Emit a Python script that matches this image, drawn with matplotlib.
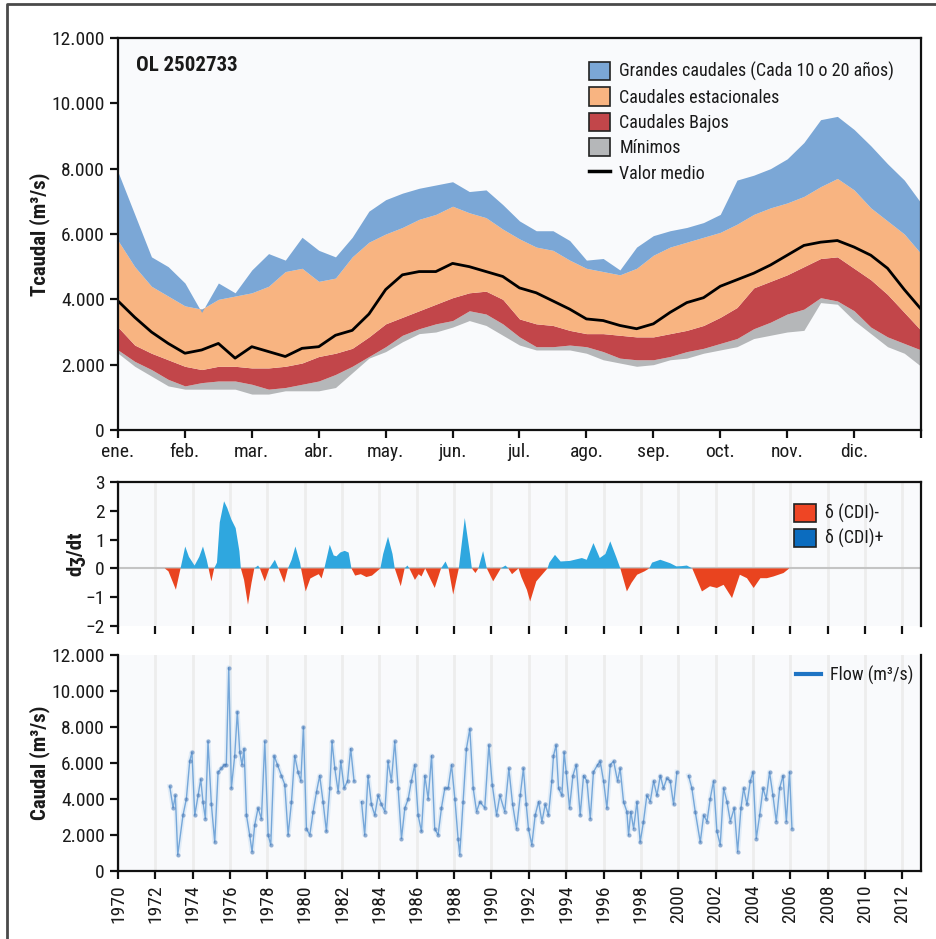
import numpy as np
import matplotlib
matplotlib.use('Agg')
import matplotlib.pyplot as plt
from matplotlib import font_manager
from matplotlib.patches import Patch
from matplotlib.lines import Line2D
from matplotlib.ticker import FuncFormatter

# pick a narrow font if one is there (the original uses a condensed sans)
avail = {f.name for f in font_manager.fontManager.ttflist}
narrow = [f for f in ['Liberation Sans Narrow', 'Roboto Condensed', 'DejaVu Sans Condensed',
                      'Open Sans Condensed', 'Noto Sans Display'] if f in avail]
if narrow:
    base = narrow[0]
    k = 1.0
else:
    base = 'Roboto' if 'Roboto' in avail else 'Liberation Sans'
    k = 0.84
plt.rcParams['font.family'] = [base, 'DejaVu Sans']

# --- panel 1: seasonal bands (m3/s), every quarter month from ene. to end of dic.
mes = np.arange(0, 12.01, 0.25)
meses = ['ene.', 'feb.', 'mar.', 'abr.', 'may.', 'jun.',
         'jul.', 'ago.', 'sep.', 'oct.', 'nov.', 'dic.']

grandes_top = [7900, 6600, 5300, 5000, 4500, 3600, 4500, 4200, 4900, 5400, 5200, 5900,
               5500, 5300, 5900, 6700, 7050, 7250, 7400, 7500, 7600, 7300, 7350, 6900,
               6400, 6100, 6100, 5800, 5200, 5250, 4900, 5600, 5950, 6100, 6200, 6350,
               6600, 7650, 7800, 8000, 8300, 8800, 9500, 9600, 9200, 8700, 8150, 7650, 6950]
estac_top = [5800, 5000, 4400, 4100, 3800, 3700, 4000, 4100, 4200, 4400, 4850, 4950,
             4550, 4650, 5300, 5750, 6000, 6200, 6450, 6600, 6850, 6650, 6500, 6150,
             5850, 5600, 5500, 5200, 4950, 4850, 4750, 4950, 5350, 5600, 5750, 5900,
             6050, 6300, 6600, 6800, 6950, 7150, 7450, 7700, 7350, 6800, 6400, 6000, 5400]
bajos_top = [3150, 2600, 2350, 2150, 1950, 1850, 1950, 1950, 1900, 1900, 1950, 2050,
             2250, 2350, 2500, 2850, 3250, 3450, 3650, 3850, 4050, 4200, 4250, 4000,
             3400, 3250, 3200, 3050, 2950, 2950, 2900, 2850, 2850, 2950, 3050, 3200,
             3450, 3750, 4350, 4550, 4750, 5000, 5250, 5300, 4950, 4600, 4150, 3600, 3050]
bajos_bot = [2450, 2100, 1850, 1550, 1350, 1450, 1500, 1500, 1400, 1250, 1300, 1400,
             1500, 1700, 1950, 2250, 2550, 2900, 3100, 3250, 3350, 3650, 3550, 3250,
             2850, 2550, 2550, 2600, 2550, 2400, 2200, 2150, 2150, 2250, 2400, 2500,
             2650, 2800, 3100, 3300, 3550, 3700, 4050, 3950, 3650, 3150, 2850, 2650, 2450]
minimos = [2350, 1950, 1650, 1350, 1250, 1250, 1250, 1250, 1100, 1100, 1200, 1200,
           1200, 1300, 1750, 2200, 2400, 2700, 2950, 3000, 3150, 3350, 3200, 2900,
           2600, 2450, 2450, 2450, 2350, 2150, 2050, 1950, 2000, 2150, 2200, 2350,
           2450, 2550, 2800, 2900, 3000, 3050, 3900, 3850, 3350, 2950, 2550, 2350, 1950]
medio = [3950, 3450, 3000, 2650, 2350, 2450, 2650, 2200, 2550, 2400, 2250, 2500,
         2550, 2900, 3050, 3550, 4300, 4750, 4850, 4850, 5100, 5000, 4850, 4700,
         4350, 4200, 3950, 3700, 3400, 3350, 3200, 3100, 3250, 3600, 3900, 4050,
         4400, 4600, 4800, 5050, 5350, 5650, 5750, 5800, 5600, 5350, 4950, 4300, 3700]

# --- panel 2: dZ/dt
dz_year = [1972.5, 1972.7, 1973.1, 1973.35, 1973.45, 1973.6, 1973.8, 1974.1, 1974.35, 1974.55,
           1974.75, 1974.85, 1975.0, 1975.15, 1975.3, 1975.45, 1975.68, 1975.85, 1976.07, 1976.3,
           1976.5, 1976.58, 1976.75, 1976.96, 1977.15, 1977.3, 1977.5, 1977.6, 1977.86, 1978.1,
           1978.4, 1978.6, 1978.9, 1979.1, 1979.3, 1979.5, 1979.75, 1979.8, 1980.05, 1980.3,
           1980.5, 1980.75, 1980.9, 1981.05, 1981.34, 1981.55, 1981.7, 1981.9, 1982.14, 1982.35,
           1982.5, 1982.7, 1983.0, 1983.3, 1983.6, 1984.05, 1984.2, 1984.46, 1984.7, 1984.82,
           1985.14, 1985.35, 1985.5, 1985.6, 1985.9, 1986.1, 1986.25, 1986.45, 1986.6, 1986.96,
           1987.3, 1987.54, 1987.7, 1987.95, 1988.25, 1988.57, 1988.85, 1988.95, 1989.14, 1989.3,
           1989.55, 1989.75, 1990.09, 1990.5, 1990.75, 1990.9, 1991.1, 1991.45, 1991.6, 1991.9,
           1992.07, 1992.4, 1992.8, 1993.0, 1993.1, 1993.4, 1993.7, 1994.2, 1994.84, 1995.1,
           1995.46, 1995.8, 1996.1, 1996.36, 1996.7, 1996.9, 1997.25, 1997.5, 1997.8, 1998.2,
           1998.45, 1998.6, 1999.04, 1999.57, 1999.9, 2000.2, 2000.46, 2000.75, 2001.27, 2001.7,
           2002.07, 2002.43, 2002.88, 2003.3, 2003.68, 2004.04, 2004.4, 2004.75, 2005.1, 2005.64,
           2005.95]
dz_val = [0, -0.1, -0.74, 0, 0.3, 0.76, 0.4, 0.1, 0.4, 0.76,
          0.3, 0, -0.45, 0, 0.2, 1.6, 2.33, 2.1, 1.7, 1.4,
          0.6, 0, -0.4, -1.26, -0.5, 0, 0.1, 0, -0.45, 0,
          0.3, 0, -0.5, 0, 0.3, 0.76, 0.2, 0, -0.8, -0.35,
          -0.28, -0.2, -0.35, 0, 0.82, 0.45, 0.42, 0.55, 0.61, 0.55,
          0, -0.25, -0.2, -0.3, -0.25, 0, 0.5, 1.1, 0.5, 0,
          -0.62, 0, 0.1, 0, -0.4, -0.2, -0.28, 0, -0.2, -0.68,
          0, 0.24, 0, -0.91, 0, 1.75, 0.5, 0, -0.16, 0,
          0.6, 0, -0.45, 0, 0.1, 0, -0.2, 0, -0.3, -0.75,
          -1.15, -0.45, -0.15, 0, 0.2, 0.47, 0.24, 0.26, 0.36, 0.3,
          0.88, 0.36, 0.5, 0.94, 0.36, 0, -0.8, -0.5, -0.22, -0.1,
          0, 0.2, 0.3, 0.18, 0.07, 0.08, 0.1, 0, -0.8, -0.62,
          -0.68, -0.57, -1.03, -0.22, -0.34, -0.68, -0.34, -0.34, -0.28, -0.16,
          0]

# --- panel 3: observed flow (m3/s), nan = gap
flow_year = [1972.77, 1972.95, 1973.07, 1973.2, 1973.48, 1973.66, 1973.84, 1973.96, 1974.11, 1974.29,
             1974.43, 1974.55, 1974.68, 1974.82, 1975.0, 1975.18, 1975.36, 1975.54, 1975.68, 1975.8,
             1975.93, 1976.07, 1976.25, 1976.39, 1976.52, 1976.64, 1976.75, 1976.88, 1977.05, 1977.18,
             1977.32, 1977.5, 1977.68, 1977.86, 1978.04, 1978.18, 1978.36, 1978.54, 1978.75, 1978.93,
             1979.11, 1979.29, 1979.46, 1979.64, 1979.79, 1979.93, 1980.09, 1980.27, 1980.45, 1980.63,
             1980.8, 1980.98, 1981.16, 1981.34, 1981.46, 1981.61, 1981.79, 1981.93, 1982.11, 1982.29,
             1982.46, 1982.64, 1982.8,
             1983.04, 1983.21, 1983.39, 1983.57, 1983.75, 1983.93, 1984.11, 1984.29, 1984.46, 1984.64,
             1984.82, 1985.0, 1985.18, 1985.36, 1985.54, 1985.71, 1985.89, 1986.07, 1986.25, 1986.43,
             1986.61, 1986.79, 1986.96, 1987.14, 1987.32, 1987.5, 1987.68, 1987.86, 1988.04, 1988.21,
             1988.3, 1988.48, 1988.66, 1988.84, 1989.02, 1989.2, 1989.38, 1989.64, 1989.86, 1990.04,
             1990.27, 1990.45, 1990.71, 1990.93, 1991.13, 1991.34, 1991.54, 1991.71, 1991.86, 1991.98,
             1992.16, 1992.34, 1992.52, 1992.7, 1992.88, 1993.05, 1993.23, 1993.32, 1993.46, 1993.59,
             1993.77, 1993.89, 1994.0, 1994.18, 1994.36, 1994.54, 1994.75, 1994.93, 1995.11, 1995.29,
             1995.46, 1995.68, 1995.82, 1996.0, 1996.18, 1996.36, 1996.54, 1996.75, 1996.89, 1997.07,
             1997.25, 1997.34, 1997.46, 1997.61, 1997.79, 1997.96, 1998.14, 1998.32, 1998.5, 1998.68,
             1998.86, 1999.04, 1999.21, 1999.39, 1999.57, 1999.75, 1999.93, 2000.2,
             2000.55, 2000.73, 2000.91, 2001.18, 2001.36, 2001.54, 2001.71, 2001.89, 2002.07, 2002.25,
             2002.43, 2002.61, 2002.79, 2003.0, 2003.18, 2003.36, 2003.5, 2003.68, 2003.86, 2004.0,
             2004.18, 2004.36, 2004.54, 2004.71, 2004.89, 2005.07, 2005.25, 2005.43, 2005.61, 2005.79,
             2005.96, 2006.09]
flow_val = [4700, 3500, 4200, 900, 3100, 4000, 6100, 6600, 3100, 4200,
            5100, 3850, 2900, 7200, 3700, 1600, 5500, 5700, 5900, 5900,
            11300, 4600, 6400, 8850, 6600, 5900, 6800, 3100, 2000, 1070,
            2550, 3500, 2900, 7200, 2000, 1450, 6400, 5900, 5300, 4800,
            2000, 3850, 6400, 5500, 5000, 8000, 2350, 2000, 3300, 4400,
            5300, 3850, 2200, 4600, 7200, 5700, 4400, 6100, 4600, 5000,
            6800, 5000, np.nan,
            3850, 2000, 5300, 3700, 3100, 4200, 3700, 3300, 6100, 5000,
            7200, 4600, 1800, 3500, 4000, 5000, 5900, 3100, 2200, 5300,
            4000, 6400, 2350, 2000, 3500, 4600, 4600, 5900, 4000, 1800,
            900, 3850, 6800, 7900, 4600, 3300, 3850, 3500, 7000, 4800,
            3100, 4200, 3300, 5700, 3700, 2350, 4200, 5700, 3700, 2350,
            1450, 3100, 3850, 2750, 3700, 3100, 5000, 6400, 7000, 4600,
            4200, 6600, 5500, 3500, 5300, 5900, 3100, 5300, 5000, 2900,
            5500, 5900, 6100, 5000, 3500, 5900, 6100, 5000, 5700, 3850,
            3300, 2000, 3300, 2350, 3850, 1600, 2750, 4200, 3850, 5000,
            4200, 5300, 4600, 5150, 5000, 3700, 5500, np.nan,
            5300, 4600, 3300, 1600, 3100, 2750, 4000, 5000, 2200, 1450,
            4600, 3850, 2750, 3500, 1070, 3500, 4600, 3700, 5000, 5500,
            1800, 3100, 4600, 4000, 5500, 4200, 2750, 4600, 5300, 2750,
            5500, 2350]

years_ticks = list(range(1970, 2013, 2))

c_grandes = '#7ba7d6'
c_estac = '#f8b481'
c_bajos = '#c2464a'
c_min = '#b5b7b9'
c_pos = '#2fa7df'
c_neg = '#e9441f'
bg = '#f9fafc'
ink = '#1a1a1a'

fs_tick = 14 * k
fs_lab = 15 * k
fs_leg = 13 * k


def miles(v, p):
    return f'{int(round(v)):,}'.replace(',', '.')


fig = plt.figure(figsize=(9.37, 9.39), dpi=100)

# outer frame (left and top edge visible)
fig.add_artist(Line2D([7 / 937, 7 / 937, 1.0], [0.0, 1 - 4 / 939, 1 - 4 / 939],
                      transform=fig.transFigure, color='#4a4a4a', lw=2))

ax1 = fig.add_axes([118 / 937, 1 - 430 / 939, 803 / 937, 392 / 939])
ax2 = fig.add_axes([118 / 937, 1 - 626 / 939, 803 / 937, 144 / 939])
ax3 = fig.add_axes([118 / 937, 1 - 871 / 939, 803 / 937, 216 / 939])

# ---- top panel
ax1.set_facecolor(bg)
ax1.fill_between(mes, minimos, bajos_bot, color=c_min, lw=0)
ax1.fill_between(mes, bajos_bot, bajos_top, color=c_bajos, lw=0)
ax1.fill_between(mes, bajos_top, estac_top, color=c_estac, lw=0)
ax1.fill_between(mes, estac_top, grandes_top, color=c_grandes, lw=0)
ax1.plot(mes, medio, color='black', lw=2)
ax1.set_xlim(0, 12)
ax1.set_ylim(0, 12000)
ax1.set_xticks(range(13))
ax1.set_xticklabels(meses + [''])
ax1.set_yticks(range(0, 12001, 2000))
ax1.yaxis.set_major_formatter(FuncFormatter(miles))
ax1.set_ylabel('Tcaudal (m³/s)', fontsize=fs_lab, fontweight='bold', color=ink)
ax1.yaxis.set_label_coords(-0.085, 0.5)
ax1.text(0.022, 0.955, 'OL 2502733', transform=ax1.transAxes, fontsize=fs_lab,
         fontweight='bold', va='top', ha='left', color=ink)
h1 = [Patch(facecolor=c_grandes, edgecolor='#222222', lw=1.2),
      Patch(facecolor=c_estac, edgecolor='#222222', lw=1.2),
      Patch(facecolor=c_bajos, edgecolor='#222222', lw=1.2),
      Patch(facecolor=c_min, edgecolor='#222222', lw=1.2),
      Line2D([0], [0], color='black', lw=2.5)]
ax1.legend(h1, ['Grandes caudales (Cada 10 o 20 años)', 'Caudales estacionales',
                'Caudales Bajos', 'Mínimos', 'Valor medio'],
           loc='upper left', bbox_to_anchor=(0.577, 0.958), frameon=False,
           fontsize=fs_leg, handlelength=1.2, handleheight=1.2, labelspacing=0.33,
           handletextpad=0.5, borderaxespad=0, labelcolor=ink)

# ---- middle panel
ax2.set_facecolor(bg)
dz_year = np.array(dz_year)
dz_val = np.array(dz_val)
ax2.axhline(0, color='#c4c4c4', lw=1.5, zorder=1)
ax2.fill_between(dz_year, dz_val, 0, where=dz_val >= 0, interpolate=True, color=c_pos, lw=0, zorder=2)
ax2.fill_between(dz_year, dz_val, 0, where=dz_val <= 0, interpolate=True, color=c_neg, lw=0, zorder=2)
ax2.set_xlim(1970, 2013)
ax2.set_ylim(-2, 3)
ax2.set_xticks(years_ticks)
ax2.tick_params(axis='x', length=0, labelbottom=False)
ax2.grid(axis='x', color='#ededed', lw=2)
ax2.set_axisbelow(True)
ax2.spines['bottom'].set_visible(False)
ax2.set_yticks(range(-2, 4))
ax2.set_ylabel('dʒ/dt', fontsize=fs_lab, fontweight='bold', color=ink)
ax2.yaxis.set_label_coords(-0.041, 0.5)
h2 = [Patch(facecolor='#ee4524', edgecolor='#222222', lw=1.2),
      Patch(facecolor='#0b6cbf', edgecolor='#222222', lw=1.2)]
ax2.legend(h2, ['δ (CDI)-', 'δ (CDI)+'], loc='upper left', bbox_to_anchor=(0.833, 0.9),
           frameon=False, fontsize=fs_leg, handlelength=1.2, handleheight=1.2,
           labelspacing=0.3, handletextpad=0.5, borderaxespad=0, labelcolor=ink)

# ---- bottom panel
ax3.set_facecolor(bg)
ax3.plot(flow_year, flow_val, color='#d2e4f4', lw=3.5, alpha=0.6, solid_joinstyle='round')
ax3.plot(flow_year, flow_val, color='#6aa0d6', lw=1.0, alpha=0.9)
ax3.plot(flow_year, flow_val, 'o', color='#3d6fb0', ms=3, alpha=0.5, mec='none')
ax3.set_xlim(1970, 2013)
ax3.set_ylim(0, 12000)
ax3.set_xticks(years_ticks)
ax3.set_xticklabels([str(y) for y in years_ticks], rotation=90)
ax3.grid(axis='x', color='#ededed', lw=2)
ax3.set_axisbelow(True)
ax3.spines['top'].set_visible(False)
ax3.set_yticks(range(0, 12001, 2000))
ax3.yaxis.set_major_formatter(FuncFormatter(miles))
ax3.set_ylabel('Caudal (m³/s)', fontsize=fs_lab, fontweight='bold', color=ink)
ax3.yaxis.set_label_coords(-0.085, 0.5)
ax3.legend([Line2D([0], [0], color='#1f74c4', lw=3)], ['Flow (m³/s)'], loc='upper left',
           bbox_to_anchor=(0.835, 0.985), frameon=False, fontsize=fs_leg,
           handlelength=1.4, handletextpad=0.5, borderaxespad=0, labelcolor=ink)

for ax in (ax1, ax2, ax3):
    for s in ax.spines.values():
        s.set_linewidth(1.6)
        s.set_color('#111111')
    ax.tick_params(axis='both', direction='out', width=1.6, length=6, labelsize=fs_tick,
                   color='#111111', labelcolor=ink)

fig.savefig('out.png', dpi=100, facecolor='white')
